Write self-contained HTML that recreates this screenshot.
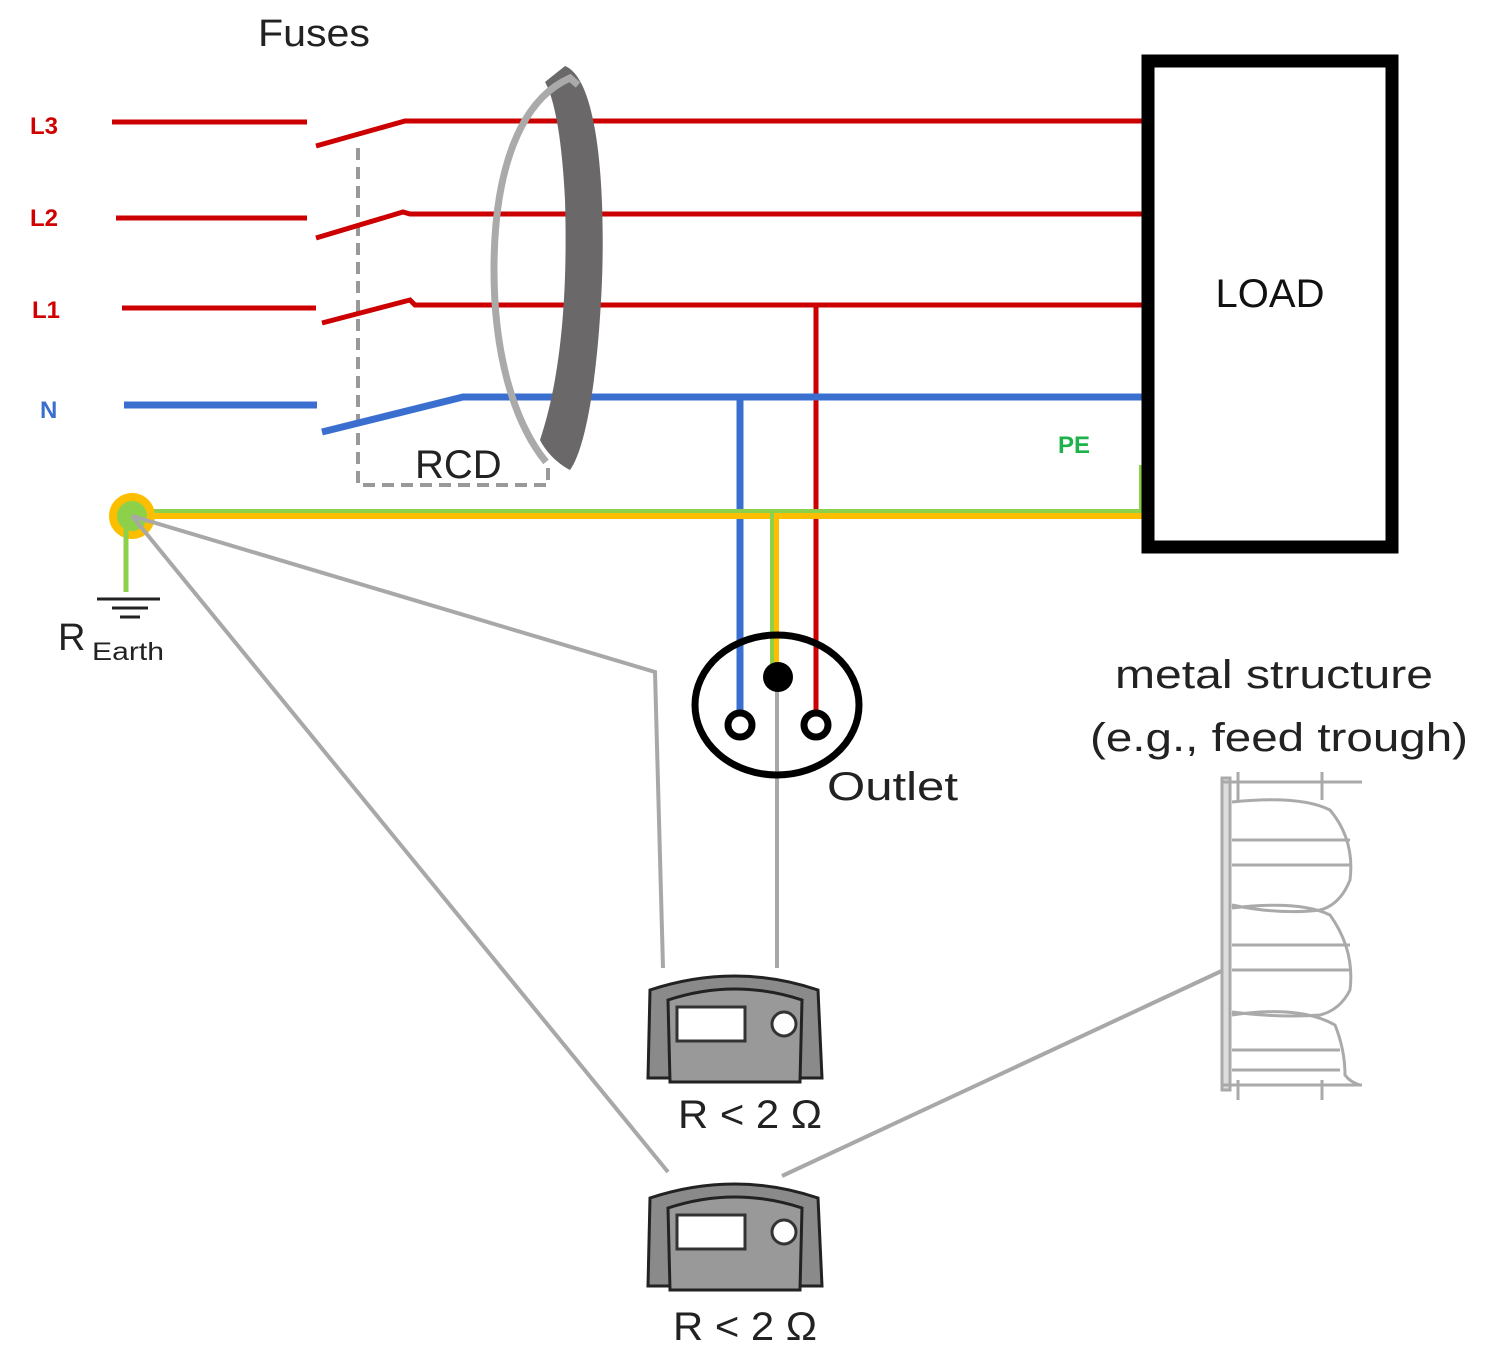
<!DOCTYPE html>
<html><head><meta charset="utf-8"><style>
html,body{margin:0;padding:0;background:#fff;}
svg{display:block;}
text{font-family:"Liberation Sans","DejaVu Sans",sans-serif;}
</style></head><body>
<svg width="1498" height="1370" viewBox="0 0 1498 1370" xmlns="http://www.w3.org/2000/svg">
<rect width="1498" height="1370" fill="#fff"/>
<text x="258" y="46" font-size="38" fill="#222" textLength="112" lengthAdjust="spacingAndGlyphs">Fuses</text>
<g font-weight="bold" font-size="24" fill="#d00000">
<text x="30" y="134">L3</text><text x="30" y="226">L2</text><text x="32" y="318">L1</text></g>
<text x="40" y="418" font-weight="bold" font-size="24" fill="#3a6fd0">N</text>
<text x="1058" y="453" font-weight="bold" font-size="24" fill="#1db34a">PE</text>

<path d="M358 148 V485 H548 V462" stroke="#999" stroke-width="4" stroke-dasharray="12 7" fill="none"/>
<text x="415" y="478" font-size="40" fill="#222">RCD</text>

<g stroke="#cc0000" stroke-width="5" fill="none">
<path d="M112 122 H307"/><path d="M316 146 L405 121 H1143"/>
<path d="M116 218 H307"/><path d="M316 238 L403 212 L410 214 H1143"/>
<path d="M122 308 H316"/><path d="M322 323 L410 300 L415 305 H1143"/>
<path d="M816 305 V722"/>
</g>
<g stroke="#3a6fd0" stroke-width="7" fill="none">
<path d="M124 405 H317"/><path d="M322 432 L463 397 H1143"/>
<path d="M740 398 V722"/>
</g>
<path d="M565 66 C600 80 605 200 602 280 C598 380 585 450 570 470 C555 462 545 450 540 440 C560 380 568 300 565 200 C562 140 555 100 545 82 Z" fill="#6b6869"/>
<path d="M546 462 C512 420 494 350 494 270 C494 170 520 100 570 78 L578 85" fill="none" stroke="#aaa" stroke-width="7"/>

<path d="M132 516 H1143" stroke="#fbbf00" stroke-width="6"/>
<path d="M132 511 H1141 V465" stroke="#8dd14a" stroke-width="4" fill="none"/>
<path d="M776 513 V676" stroke="#fbbf00" stroke-width="6"/>
<path d="M772 513 V676" stroke="#8dd14a" stroke-width="4"/>
<circle cx="132" cy="516" r="19" fill="#8dd14a" stroke="#fbbf00" stroke-width="8"/>
<path d="M126 520 V592" stroke="#8dd14a" stroke-width="5"/>
<g stroke="#222" stroke-width="3"><path d="M97 599 H160"/><path d="M112 608 H148"/><path d="M120 617 H140"/></g>
<text x="58" y="650" font-size="38" fill="#222">R</text>
<text x="92" y="660" font-size="25" fill="#222" textLength="72" lengthAdjust="spacingAndGlyphs">Earth</text>

<rect x="1148" y="61" width="244" height="486" fill="none" stroke="#000" stroke-width="13"/>
<text x="1270" y="307" font-size="40" fill="#111" text-anchor="middle">LOAD</text>

<g stroke="#a8a8a8" stroke-width="4" fill="none">
<path d="M132 516 L655 672 L663 968"/>
<path d="M132 516 L668 1172"/>
<path d="M777 690 V968"/>
<path d="M1228 968 L782 1176"/>
</g>

<ellipse cx="777" cy="705" rx="82" ry="70" fill="none" stroke="#000" stroke-width="7"/>
<circle cx="778" cy="677" r="15" fill="#000"/>
<circle cx="740" cy="725" r="12" fill="#fff" stroke="#000" stroke-width="7"/>
<circle cx="816" cy="725" r="12" fill="#fff" stroke="#000" stroke-width="7"/>
<text x="827" y="800" font-size="40" fill="#222" textLength="131" lengthAdjust="spacingAndGlyphs">Outlet</text>

<g id="m1">
<path d="M650 990 Q735 962 818 990 L822 1078 L648 1078 Z" fill="#8a8a8a" stroke="#222" stroke-width="3"/>
<path d="M668 1000 Q735 978 802 1000 L800 1082 L670 1082 Z" fill="#999" stroke="#222" stroke-width="3"/>
<rect x="677" y="1007" width="68" height="34" fill="#fff" stroke="#333" stroke-width="3"/>
<circle cx="784" cy="1024" r="12" fill="#fff" stroke="#333" stroke-width="3"/>
</g>
<use href="#m1" transform="translate(0 208)"/>
<text x="678" y="1128" font-size="40" fill="#222" textLength="144" lengthAdjust="spacingAndGlyphs">R &lt; 2 Ω</text>
<text x="673" y="1340" font-size="40" fill="#222" textLength="144" lengthAdjust="spacingAndGlyphs">R &lt; 2 Ω</text>

<text x="1115" y="688" font-size="40" fill="#222" textLength="318" lengthAdjust="spacingAndGlyphs">metal structure</text>
<text x="1090" y="751" font-size="40" fill="#222" textLength="378" lengthAdjust="spacingAndGlyphs">(e.g., feed trough)</text>
<g stroke="#aaa" stroke-width="3" fill="none">
<rect x="1222" y="778" width="8" height="312" fill="#ddd"/>
<path d="M1222 782 H1362 M1222 1085 H1362"/>
<path d="M1238 772 V800 M1322 772 V800 M1238 1080 V1100 M1322 1080 V1100"/>
<path d="M1232 802 Q1300 795 1330 810 Q1355 840 1350 880 Q1340 905 1320 910 Q1280 915 1232 905"/>
<path d="M1232 908 Q1300 900 1330 915 Q1355 950 1350 990 Q1340 1010 1320 1015 Q1280 1018 1232 1012"/>
<path d="M1232 1015 Q1300 1005 1335 1025 Q1345 1050 1345 1075 Q1350 1082 1360 1085"/>
<path d="M1232 840 H1350 M1232 865 H1350 M1232 945 H1350 M1232 970 H1350 M1232 1050 H1340 M1232 1070 H1340"/>
</g>
</svg>
</body></html>
